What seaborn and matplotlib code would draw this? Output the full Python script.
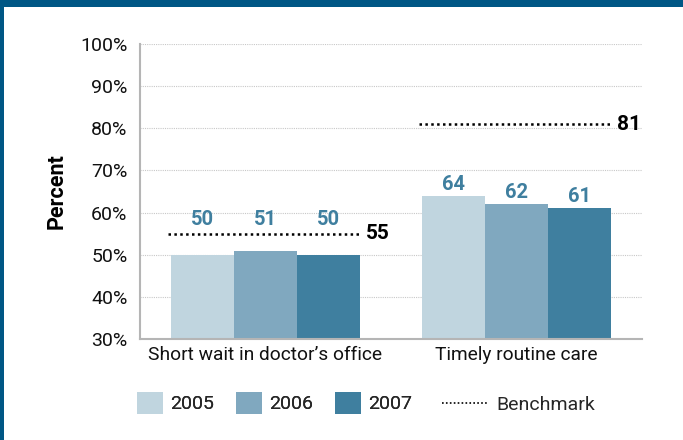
import matplotlib
matplotlib.use("Agg")
import matplotlib.pyplot as plt
import seaborn as sns
import pandas as pd
from matplotlib.patches import Patch, Rectangle
from matplotlib.lines import Line2D

categories = ["Short wait in doctor\u2019s office", "Timely routine care"]
years = ["2005", "2006", "2007"]
values_2005 = [50, 64]
values_2006 = [51, 62]
values_2007 = [50, 61]
benchmarks = [55, 81]
yticks = [30, 40, 50, 60, 70, 80, 90, 100]
colors = ["#c0d5df", "#80a8bf", "#3f7f9f"]
frame_color = "#005785"

sns.set_theme(style="white")
plt.rcParams["font.family"] = ["Roboto", "DejaVu Sans"]

rows = []
for y, vals in zip(years, [values_2005, values_2006, values_2007]):
    for c, v in zip(categories, vals):
        rows.append({"category": c, "year": y, "value": v})
df = pd.DataFrame(rows)

fig = plt.figure(figsize=(6.83, 4.40), dpi=100)
ax = fig.add_axes([140/683, 1-339/440, 502/683, 295/440])

sns.barplot(data=df, x="category", y="value", hue="year", order=categories,
            hue_order=years, palette=colors, width=0.753, gap=0,
            saturation=1, ax=ax, legend=False, linewidth=0)

ax.set_ylim(30, 100)
ax.set_xlim(-0.5, 1.5)
ax.set_yticks(yticks)
ax.set_yticklabels([f"{t}%" for t in yticks], fontsize=14)
ax.set_ylabel("Percent", fontsize=15.5, fontweight="bold", labelpad=9)
ax.set_xlabel("")
ax.tick_params(axis="x", which="major", length=0, labelsize=13.8, pad=5, labelcolor="#111111")
ax.set_xticks([-0.5, 0.5, 1.5], minor=True)
ax.tick_params(axis="x", which="minor", length=6, width=1.5, color="#b5b5b5", direction="out")
ax.tick_params(axis="y", length=6, width=1.5, color="#b5b5b5", direction="out", pad=3, labelcolor="#111111")
ax.yaxis.label.set_color("black")

for s in ["top", "right"]:
    ax.spines[s].set_visible(False)
for s in ["left", "bottom"]:
    ax.spines[s].set_color("#b5b5b5")
    ax.spines[s].set_linewidth(1.5)

for t in yticks[1:]:
    ax.axhline(t, color="#c8c8c8", linestyle=(0, (1, 1)), linewidth=0.8, zorder=0)

# benchmark lines and labels
for i, b in enumerate(benchmarks):
    ax.hlines(b, i - 0.39, i + 0.38, colors="black", linestyles=(0, (1, 1.35)), linewidth=1.8, zorder=3)
    ax.text(i + 0.40, b, str(b), ha="left", va="center", fontsize=15,
            fontweight="bold", color="black")

# value labels
n = len(years)
bw = 0.753 / n
for j, vals in enumerate([values_2005, values_2006, values_2007]):
    for i, v in enumerate(vals):
        x = i - 0.753/2 + bw*(j + 0.5)
        base = benchmarks[i] if benchmarks[i] - v < 8 else v
        ax.annotate(str(v), (x, base), xytext=(0, 3.5 if base != v else 1.5),
                    textcoords="offset points", ha="center", va="bottom",
                    fontsize=14.5, fontweight="bold", color="#3f7f9f")

# frame band
fig.add_artist(Rectangle((0, 1-7/440), 1, 7/440, transform=fig.transFigure,
                         facecolor=frame_color, edgecolor="none"))
fig.add_artist(Rectangle((0, 0), 4/683, 1, transform=fig.transFigure,
                         facecolor=frame_color, edgecolor="none"))

# legends
fs = 14
fs_px = fs * 100 / 72
year_handles = [Patch(facecolor=c, edgecolor="none") for c in colors]
leg1 = fig.legend(year_handles, years, loc="center left",
                  bbox_to_anchor=(137/683, 1-403/440), ncol=3, frameon=False,
                  fontsize=fs, handlelength=26/fs_px, handleheight=26/fs_px,
                  handletextpad=7/fs_px, columnspacing=22/fs_px, borderpad=0,
                  borderaxespad=0)
bench_handle = [Line2D([], [], color="black", linestyle=(0, (1, 1.35)), linewidth=1.2)]
leg2 = fig.legend(bench_handle, ["Benchmark"], loc="center left",
                  bbox_to_anchor=(442/683, 1-405/440), frameon=False,
                  fontsize=fs, handlelength=47/fs_px, handletextpad=7/fs_px,
                  borderpad=0, borderaxespad=0)
fig.add_artist(leg1)

fig.savefig("out.png", dpi=100)
